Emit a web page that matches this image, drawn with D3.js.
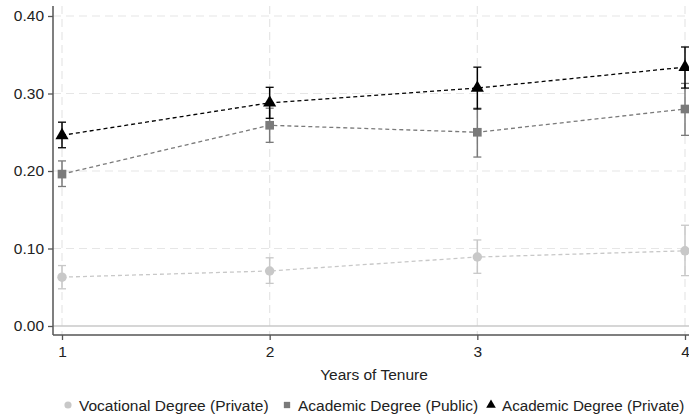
<!DOCTYPE html>
<html><head><meta charset="utf-8">
<script src="https://cdn.jsdelivr.net/npm/d3@7"></script>
<style>body{margin:0;background:#fff}svg{display:block}text{font-family:"Liberation Sans",Arial,sans-serif}</style>
</head><body><svg id="c" width="689" height="419"></svg>
<script>
const years = [1, 2, 3, 4];
const yTicks = [0, 0.1, 0.2, 0.3, 0.4];
const seriesNames = ["Vocational Degree (Private)", "Academic Degree (Public)", "Academic Degree (Private)"];
const vocEst = [0.063, 0.071, 0.089, 0.097];
const vocLo  = [0.048, 0.055, 0.068, 0.065];
const vocHi  = [0.078, 0.088, 0.111, 0.130];
const pubEst = [0.196, 0.259, 0.250, 0.280];
const pubLo  = [0.180, 0.237, 0.218, 0.246];
const pubHi  = [0.213, 0.281, 0.281, 0.313];
const priEst = [0.246, 0.288, 0.307, 0.334];
const priLo  = [0.230, 0.268, 0.280, 0.307];
const priHi  = [0.263, 0.308, 0.334, 0.360];

const FS = 15.5;
const svg = d3.select("#c");
const x = d3.scaleLinear().domain([1, 4]).range([62, 685]);
const y = d3.scaleLinear().domain([0, 0.4]).range([326, 16]);

// gridlines
svg.append("g").selectAll("line").data(yTicks.filter(d => d > 0)).join("line")
  .attr("x1", 53).attr("x2", 689).attr("y1", d => y(d)).attr("y2", d => y(d))
  .attr("stroke", "#e6e6e6").attr("stroke-width", 1.2).attr("stroke-dasharray", "8,5");
svg.append("g").selectAll("line").data(years).join("line")
  .attr("y1", 6).attr("y2", 335).attr("x1", d => x(d)).attr("x2", d => x(d))
  .attr("stroke", "#e6e6e6").attr("stroke-width", 1.2).attr("stroke-dasharray", "8,5");
svg.append("line").attr("x1", 53).attr("x2", 689).attr("y1", y(0)).attr("y2", y(0))
  .attr("stroke", "#c8c8c8").attr("stroke-width", 1.5);

// axes
const yAxis = svg.append("g").attr("transform", "translate(53,0)")
  .call(d3.axisLeft(y).tickValues(yTicks).tickFormat(d3.format(".2f")).tickSize(5).tickPadding(4));
yAxis.select(".domain").attr("d", "M0,6V335").attr("stroke", "#555").attr("stroke-width", 1.5);
yAxis.selectAll(".tick line").attr("stroke", "#555").attr("stroke-width", 1.3);
yAxis.selectAll(".tick text").attr("font-size", FS).attr("fill", "#222").style("font-family", "Liberation Sans, Arial, sans-serif");

const xAxis = svg.append("g").attr("transform", "translate(0,335)")
  .call(d3.axisBottom(x).tickValues(years).tickFormat(d3.format("d")).tickSize(5).tickPadding(6));
xAxis.select(".domain").attr("d", "M53,0H689").attr("stroke", "#555").attr("stroke-width", 1.5);
xAxis.selectAll(".tick line").attr("stroke", "#555").attr("stroke-width", 1.3);
xAxis.selectAll(".tick text").attr("font-size", FS).attr("fill", "#222").style("font-family", "Liberation Sans, Arial, sans-serif");

svg.append("text").attr("x", 374).attr("y", 380).attr("text-anchor", "middle")
  .attr("font-size", FS).attr("fill", "#222").text("Years of Tenure");

const series = [
  {name: seriesNames[0], est: vocEst, lo: vocLo, hi: vocHi, color: "#c8c8c8", shape: d3.symbolCircle, size: 70},
  {name: seriesNames[1], est: pubEst, lo: pubLo, hi: pubHi, color: "#7a7a7a", shape: d3.symbolSquare, size: 75},
  {name: seriesNames[2], est: priEst, lo: priLo, hi: priHi, color: "#000000", shape: d3.symbolTriangle, size: 75}
];

const line = d3.line().x((d, i) => x(years[i])).y(d => y(d));
series.forEach(s => {
  const g = svg.append("g");
  g.append("path").datum(s.est).attr("d", line).attr("fill", "none")
    .attr("stroke", s.color).attr("stroke-width", 1.3).attr("stroke-dasharray", "4,3");
  years.forEach((yr, i) => {
    const cx = x(yr);
    g.append("line").attr("x1", cx).attr("x2", cx).attr("y1", y(s.lo[i])).attr("y2", y(s.hi[i]))
      .attr("stroke", s.color).attr("stroke-width", 1.5);
    [s.lo[i], s.hi[i]].forEach(v => g.append("line").attr("x1", cx - 4).attr("x2", cx + 4)
      .attr("y1", y(v)).attr("y2", y(v)).attr("stroke", s.color).attr("stroke-width", 1.3));
  });
  g.selectAll("path.m").data(s.est).join("path").attr("class", "m")
    .attr("transform", (d, i) => `translate(${x(years[i])},${y(d)})`)
    .attr("d", d3.symbol().type(s.shape).size(s.size)).attr("fill", s.color);
});

// legend
const legX = [68, 287, 491];
series.forEach((s, i) => {
  svg.append("path").attr("transform", `translate(${legX[i]},405)`)
    .attr("d", d3.symbol().type(s.shape).size(40)).attr("fill", s.color);
  svg.append("text").attr("x", legX[i] + 11).attr("y", 411).attr("font-size", i === 2 ? 15.2 : FS)
    .attr("fill", "#222").text(s.name);
});
</script></body></html>
